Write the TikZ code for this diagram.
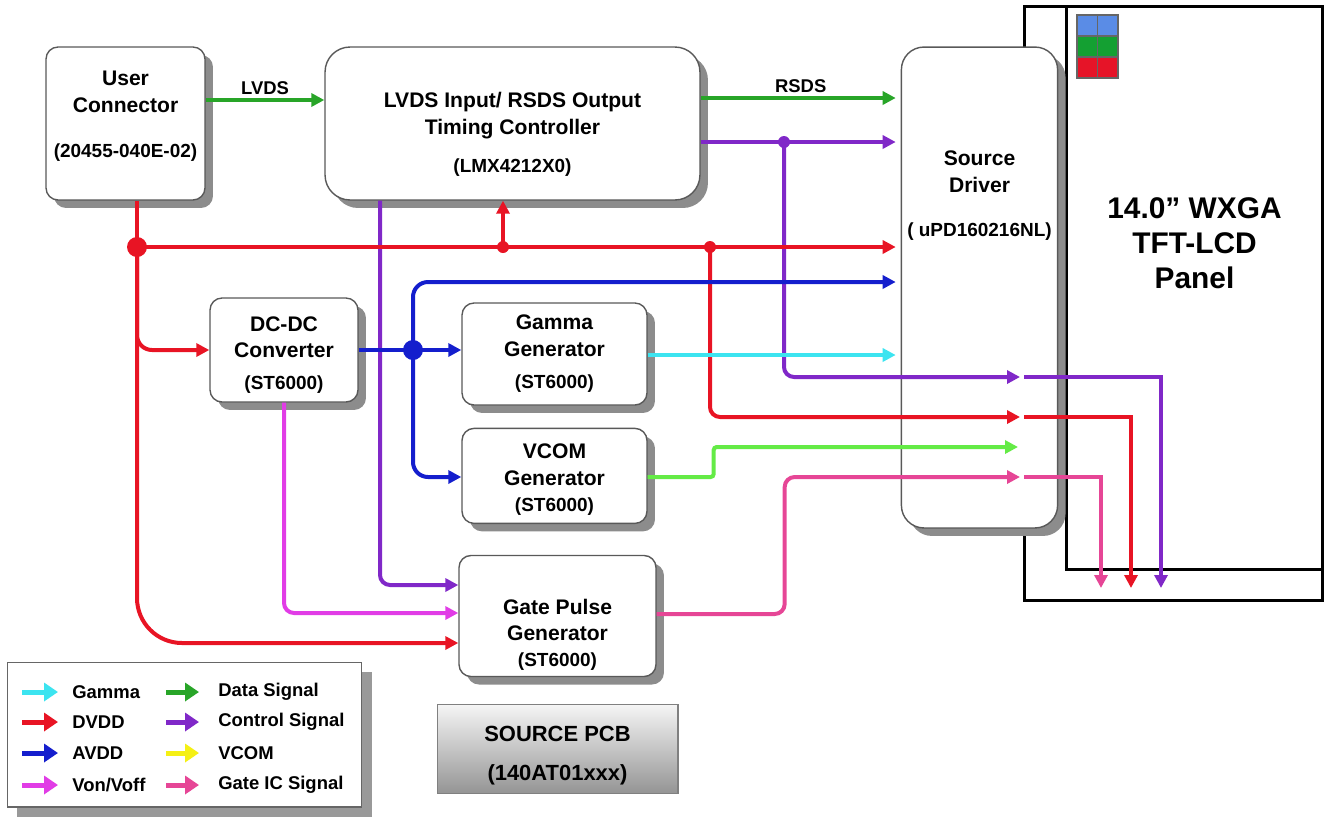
\documentclass[tikz,border=0pt]{standalone}
\usepackage{fontspec}
\setmainfont{Liberation Sans}
\usepackage{tikz}
\usetikzlibrary{arrows.meta,positioning,shadows,calc}
\tikzset{>={Triangle[length=0.26cm,width=0.26cm]}}

\definecolor{datac}{RGB}{40,165,40}
\definecolor{ctrlc}{RGB}{128,40,200}
\definecolor{dvddc}{RGB}{232,20,36}
\definecolor{avddc}{RGB}{20,30,205}
\definecolor{gamc}{RGB}{60,228,240}
\definecolor{vcomc}{RGB}{100,235,70}
\definecolor{vonc}{RGB}{225,60,230}
\definecolor{gatec}{RGB}{230,70,150}
\definecolor{yelc}{RGB}{245,240,20}
\definecolor{pixb}{RGB}{90,140,230}
\definecolor{pixg}{RGB}{20,160,50}
\definecolor{pixr}{RGB}{230,20,40}

\newcommand{\subtxt}{\fontsize{10.8}{13}\selectfont}
\newcommand{\updepth}[1]{\rule[-#1]{0pt}{0pt}}
\newcommand{\downheight}[1]{\rule{0pt}{#1}}

\begin{document}
\begin{tikzpicture}[x=0.02cm, y=-0.02cm,
  blk/.style={draw=black!65, line width=0.8pt, fill=white, rounded corners=0.24cm, align=center,
    font=\fontsize{12}{15}\selectfont\bfseries,
    drop shadow={shadow xshift=0.16cm, shadow yshift=-0.16cm, fill=black!45, opacity=1}},
  wire/.style={line width=0.08cm},
  wlabel/.style={above, midway, inner sep=2pt, font=\fontsize{10.5}{12}\selectfont\bfseries, text=black},
  lgtext/.style={anchor=west, inner sep=0pt, font=\fontsize{10.5}{12}\selectfont\bfseries},
  lgarrow/.style={line width=0.1cm, -{Triangle[length=0.28cm,width=0.36cm]}}]
  \useasboundingbox (0,0) rectangle (1326,816);

  % panel
  \node[draw, line width=0.06cm, minimum width=5.98cm, minimum height=11.9cm] (frame) at (1173.5,303.5) {};
  \node[draw, line width=0.06cm, minimum width=5.14cm, minimum height=11.28cm, align=center,
    font=\fontsize{17}{20}\selectfont\bfseries] (panel) at (1194.5,288) {14.0'' WXGA\\TFT-LCD\\Panel\updepth{51pt}};
  \fill[pixb] (1077,15) rectangle (1118,36);
  \fill[pixg] (1077,36) rectangle (1118,57);
  \fill[pixr] (1077,57) rectangle (1118,78);
  \draw[black!60, line width=0.6pt] (1077,15) rectangle (1118,78) (1097.5,15) -- (1097.5,78)
    (1077,36) -- (1118,36) (1077,57) -- (1118,57);

  % blocks
  \node[blk, minimum width=3.18cm, minimum height=3.06cm] (uc) at (125.5,123.5)
    {User\\Connector\\[11pt]{\subtxt (20455-040E-02)\updepth{10pt}}};
  \node[blk, rounded corners=0.5cm, minimum width=7.5cm, minimum height=3.06cm] (tcon) at (512.5,123.5)
    {\downheight{21pt}LVDS Input/ RSDS Output\\Timing Controller\\[6.5pt]{\subtxt (LMX4212X0)}};
  \node[blk, rounded corners=0.45cm, minimum width=3.06cm, minimum height=9.62cm] (sd) at (979.5,287.5)
    {Source\\Driver\\[10pt]{\subtxt ( uPD160216NL)\updepth{107pt}}};
  \node[blk, minimum width=2.96cm, minimum height=2.08cm] (dcdc) at (284,350)
    {\downheight{14pt}DC-DC\\Converter\\[3pt]{\subtxt (ST6000)}};
  \node[blk, minimum width=3.7cm, minimum height=2.04cm] (gamma) at (554.5,354)
    {Gamma\\Generator\\[3.5pt]{\subtxt (ST6000)}};
  \node[blk, minimum width=3.7cm, minimum height=1.9cm] (vcom) [below=0.44cm of gamma]
    {\downheight{13pt}VCOM\\Generator\\{\subtxt (ST6000)}};
  \node[blk, minimum width=3.94cm, minimum height=2.4cm] (gate) at (557.5,616)
    {\downheight{30pt}Gate Pulse\\Generator\\{\subtxt (ST6000)}};
  \node[draw=black!50, line width=0.6pt, top color=black!4, bottom color=black!42, minimum width=4.82cm,
    minimum height=1.78cm, align=center, font=\fontsize{12.5}{15}\selectfont\bfseries] (pcb) [below=0.54cm of gate]
    {\downheight{16pt}SOURCE PCB\\[7.5pt](140AT01xxx)};

  % junctions and pins
  \coordinate (jR1) at (137,247);
  \coordinate (jR2) at (503,247);
  \coordinate (jR3) at (710,247);
  \coordinate (jP) at (784,142);
  \coordinate (jB) at (413,350);
  \coordinate (sdC) at (1020,377);
  \coordinate (sdD) at (1020,417);
  \coordinate (sdV) at (1018,447);
  \coordinate (sdG) at (1020,477);
  \coordinate (panG) at (1101,588);
  \coordinate (panD) at (1131,588);
  \coordinate (panC) at (1161,588);

  % data and control
  \draw[wire, datac, ->] (uc.east |- 0,100) -- node[wlabel] {LVDS} (tcon.west |- 0,100);
  \draw[wire, datac, ->, shorten >=0.1cm] (tcon.east |- 0,98) -- node[wlabel] {RSDS} (sd.west |- 0,98);
  \draw[wire, ctrlc, ->, shorten >=0.1cm] (tcon.east |- 0,142) -- (sd.west |- 0,142);
  \draw[wire, ctrlc, ->, rounded corners=0.2cm] (jP) |- (sdC);
  \draw[wire, ctrlc, ->] ([xshift=0.08cm]sdC) -| (panC);
  \draw[wire, ctrlc, ->, rounded corners=0.2cm] (tcon.south -| 380,0) |- (gate.west |- 0,585);
  \fill[ctrlc] (jP) circle (0.12cm);

  % DVDD
  \draw[wire, dvddc] (uc.south -| jR1) -- (jR1);
  \draw[wire, dvddc, ->, shorten >=0.1cm] (jR1) -- (sd.west |- jR1);
  \draw[wire, dvddc, ->] (jR2) -- (tcon.south -| jR2);
  \draw[wire, dvddc, ->, rounded corners=0.2cm] (jR3) |- (sdD);
  \draw[wire, dvddc, ->] ([xshift=0.08cm]sdD) -| (panD);
  \draw[wire, dvddc, ->, rounded corners=0.3cm] (jR1) |- (dcdc.west);
  \draw[wire, dvddc, ->, rounded corners=0.9cm] (jR1) |- (gate.west |- 0,643);
  \fill[dvddc] (jR1) circle (0.2cm);
  \fill[dvddc] (jR2) circle (0.12cm);
  \fill[dvddc] (jR3) circle (0.12cm);

  % AVDD
  \draw[wire, avddc, ->] (dcdc.east) -- (gamma.west |- dcdc.east);
  \draw[wire, avddc, ->, rounded corners=0.3cm, shorten >=0.1cm] (jB) |- (sd.west |- 0,282);
  \draw[wire, avddc, ->, rounded corners=0.3cm] (jB) |- (vcom.west |- 0,477);
  \fill[avddc] (jB) circle (0.2cm);

  % gamma, vcom, gate signals
  \draw[wire, gamc, ->, shorten >=0.1cm] (gamma.east |- 0,355) -- (sd.west |- 0,355);
  \draw[wire, vcomc, ->, rounded corners=0.06cm] (vcom.east |- 0,477) -- ++(66,0) |- (sdV);
  \draw[wire, vonc, ->, rounded corners=0.2cm] (dcdc.south) |- (gate.west |- 0,613);
  \draw[wire, gatec, ->, rounded corners=0.2cm] (gate.east |- 0,614) -- ++(128,0) |- (sdG);
  \draw[wire, gatec, ->] ([xshift=0.08cm]sdG) -| (panG);

  % legend
  \node[draw=black!60, line width=0.6pt, fill=white, minimum width=7.1cm, minimum height=2.9cm,
    drop shadow={shadow xshift=0.2cm, shadow yshift=-0.2cm, fill=black!40, opacity=1}] (legend) at (184.5,734.5) {};
  \node[lgtext] (lgGamma) at (72,692) {Gamma};
  \node[lgtext] (lgDvdd) at (72,722) {DVDD};
  \node[lgtext] (lgAvdd) at (72,753) {AVDD};
  \node[lgtext] (lgVon) at (72,785) {Von/Voff};
  \node[lgtext] (lgData) at (218,692) {Data Signal};
  \node[lgtext] (lgCtrl) at (218,722) {Control Signal};
  \node[lgtext] (lgVcom) at (218,753) {VCOM};
  \node[lgtext] (lgGate) at (218,785) {Gate IC Signal};
  \draw[lgarrow, gamc] ($(lgGamma.west)+(-50,0)$) -- ($(lgGamma.west)+(-14,0)$);
  \draw[lgarrow, dvddc] ($(lgDvdd.west)+(-50,0)$) -- ($(lgDvdd.west)+(-14,0)$);
  \draw[lgarrow, avddc] ($(lgAvdd.west)+(-50,0)$) -- ($(lgAvdd.west)+(-14,0)$);
  \draw[lgarrow, vonc] ($(lgVon.west)+(-50,0)$) -- ($(lgVon.west)+(-14,0)$);
  \draw[lgarrow, datac] ($(lgData.west)+(-52,0)$) -- ($(lgData.west)+(-19,0)$);
  \draw[lgarrow, ctrlc] ($(lgCtrl.west)+(-52,0)$) -- ($(lgCtrl.west)+(-19,0)$);
  \draw[lgarrow, yelc] ($(lgVcom.west)+(-52,0)$) -- ($(lgVcom.west)+(-19,0)$);
  \draw[lgarrow, gatec] ($(lgGate.west)+(-52,0)$) -- ($(lgGate.west)+(-19,0)$);
\end{tikzpicture}
\end{document}
